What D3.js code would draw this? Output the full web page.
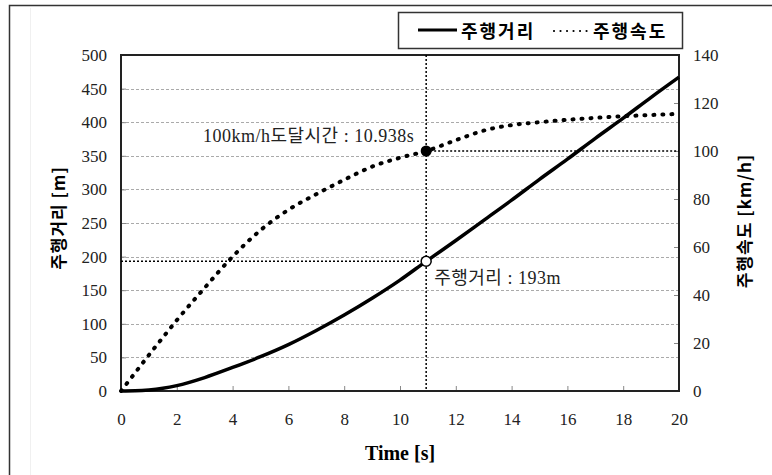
<!DOCTYPE html>
<html>
<head>
<meta charset="utf-8">
<script src="https://cdn.jsdelivr.net/npm/d3@7"></script>
<style>
  body { margin: 0; background: #fff; }
  svg { display: block; }
</style>
</head>
<body>
<div id="chart-area"></div>
<script>
// time [s] and the two series
var times    = [0, 0.5, 1, 1.5, 2, 3, 4, 5, 6, 7, 8, 9, 10, 10.938, 12, 13, 14, 15, 16, 17, 18, 19, 20];
var distance = [0, 0.3, 1.5, 4, 8, 20, 35, 51, 69, 90, 113, 138, 165, 193, 224, 254, 284, 315, 345, 376, 406, 437, 467];
var speed    = [0, 7.5, 15, 22.3, 29.5, 43, 56, 67, 75.5, 82, 88, 93.5, 97.2, 100, 104.5, 108.5, 110.8, 112, 113, 113.8, 114.5, 115, 115.5];

var xTicks = [0, 2, 4, 6, 8, 10, 12, 14, 16, 18, 20];
var distTicks = [0, 50, 100, 150, 200, 250, 300, 350, 400, 450, 500];
var speedTicks = [0, 20, 40, 60, 80, 100, 120, 140];

// marked point: 100 km/h reached
var markTime = 10.938, markSpeed = 100, markDist = 193;

var W = 772, H = 475;
var margin = {left: 121, right: 93, top: 55, bottom: 84};
var width = W - margin.left - margin.right,
    height = H - margin.top - margin.bottom;

var serif = "'Liberation Serif', 'Noto Sans CJK KR', serif";
var kr = "'Noto Sans CJK KR', sans-serif";

var svg = d3.select("#chart-area").append("svg")
    .attr("width", W)
    .attr("height", H);

svg.append("rect").attr("width", W).attr("height", H).attr("fill", "#fff");

// outer frame of the figure
svg.append("rect")
    .attr("x", 9.5).attr("y", 5.5)
    .attr("width", W).attr("height", H)
    .attr("fill", "none").attr("stroke", "#333").attr("stroke-width", 1.5);
svg.append("line")
    .attr("x1", 30.5).attr("x2", 30.5).attr("y1", 8).attr("y2", H)
    .attr("stroke", "#f0f0f0").attr("stroke-width", 1);

var g = svg.append("g")
    .attr("transform", "translate(" + margin.left + "," + margin.top + ")");

var x = d3.scaleLinear().domain([0, 20]).range([0, width]);
var yL = d3.scaleLinear().domain([0, 500]).range([height, 0]);
var yR = d3.scaleLinear().domain([0, 140]).range([height, 0]);

// grid lines
g.selectAll(".grid")
    .data(distTicks.filter(function(d){ return d > 0 && d < 500; }))
    .enter().append("line")
    .attr("class", "grid")
    .attr("x1", 0).attr("x2", width)
    .attr("y1", function(d){ return Math.round(yL(d)) + 0.5; })
    .attr("y2", function(d){ return Math.round(yL(d)) + 0.5; })
    .attr("stroke", "#aaa").attr("stroke-width", 1)
    .attr("stroke-dasharray", "3,2");

// axes
function styleAxis(sel) {
    sel.select(".domain").remove();
    sel.selectAll(".tick line").attr("stroke", "#888");
    sel.selectAll(".tick text")
        .style("font-family", serif)
        .style("font-size", "17px")
        .attr("fill", "#222");
}

g.append("g")
    .call(d3.axisLeft(yL).tickValues(distTicks).tickSize(-5).tickPadding(14))
    .call(styleAxis);

g.append("g")
    .attr("transform", "translate(" + width + ",0)")
    .call(d3.axisRight(yR).tickValues(speedTicks).tickSize(-5).tickPadding(14))
    .call(styleAxis);

g.append("g")
    .attr("transform", "translate(0," + height + ")")
    .call(d3.axisBottom(x).tickValues(xTicks).tickSize(-5).tickPadding(22))
    .call(styleAxis);

// plot border
g.append("rect")
    .attr("width", width).attr("height", height)
    .attr("fill", "none").attr("stroke", "#222").attr("stroke-width", 2);

var points = times.map(function(t, i){
    return {t: t, dist: distance[i], speed: speed[i]};
});

// marker guide lines
var mx = x(markTime);
g.append("line")
    .attr("x1", mx).attr("x2", mx).attr("y1", 0).attr("y2", height)
    .attr("stroke", "#000").attr("stroke-width", 1.5).attr("stroke-dasharray", "2,2");
g.append("line")
    .attr("x1", mx).attr("x2", width).attr("y1", yR(markSpeed)).attr("y2", yR(markSpeed))
    .attr("stroke", "#000").attr("stroke-width", 1.5).attr("stroke-dasharray", "2,2");
g.append("line")
    .attr("x1", 0).attr("x2", mx).attr("y1", yL(markDist)).attr("y2", yL(markDist))
    .attr("stroke", "#000").attr("stroke-width", 1.5).attr("stroke-dasharray", "2,2");

// distance (solid)
var distLine = d3.line()
    .x(function(d){ return x(d.t); })
    .y(function(d){ return yL(d.dist); })
    .curve(d3.curveMonotoneX);

g.append("path")
    .datum(points)
    .attr("d", distLine)
    .attr("fill", "none").attr("stroke", "#000").attr("stroke-width", 3.5);

// speed (dotted)
var speedLine = d3.line()
    .x(function(d){ return x(d.t); })
    .y(function(d){ return yR(d.speed); })
    .curve(d3.curveMonotoneX);

g.append("path")
    .datum(points)
    .attr("d", speedLine)
    .attr("fill", "none").attr("stroke", "#000").attr("stroke-width", 4)
    .attr("stroke-linecap", "round")
    .attr("stroke-dasharray", "1,8");

// marker points
g.append("circle")
    .attr("cx", mx).attr("cy", yR(markSpeed)).attr("r", 5.5)
    .attr("fill", "#000");
g.append("circle")
    .attr("cx", mx).attr("cy", yL(markDist)).attr("r", 5)
    .attr("fill", "#fff").attr("stroke", "#000").attr("stroke-width", 1.5);

// annotations
g.append("text")
    .attr("x", mx - 12).attr("y", yR(markSpeed) - 15)
    .attr("text-anchor", "end")
    .attr("dominant-baseline", "central")
    .style("font-family", serif).style("font-size", "18px").style("letter-spacing", "0.5px")
    .attr("fill", "#222")
    .text("100km/h도달시간 : " + markTime + "s");

g.append("text")
    .attr("x", mx + 8).attr("y", yL(markDist) + 17)
    .attr("dominant-baseline", "central")
    .style("font-family", serif).style("font-size", "18px").style("letter-spacing", "0.5px")
    .attr("fill", "#222")
    .text("주행거리 : " + markDist + "m");

// axis titles
svg.append("text")
    .attr("transform", "translate(57," + (margin.top + height / 2 - 5) + ") rotate(-90)")
    .attr("text-anchor", "middle").attr("dominant-baseline", "central")
    .style("font-family", kr).style("font-size", "17px").attr("font-weight", "bold")
    .style("letter-spacing", "1px")
    .text("주행거리 [m]");

svg.append("text")
    .attr("transform", "translate(743," + (margin.top + height / 2 - 2) + ") rotate(-90)")
    .attr("text-anchor", "middle").attr("dominant-baseline", "central")
    .style("font-family", kr).style("font-size", "17px").attr("font-weight", "bold")
    .style("letter-spacing", "1px")
    .text("주행속도 [km/h]");

svg.append("text")
    .attr("x", margin.left + width / 2).attr("y", 453)
    .attr("text-anchor", "middle").attr("dominant-baseline", "central")
    .style("font-family", serif).style("font-size", "20px").attr("font-weight", "bold")
    .text("Time [s]");

// legend
var legend = svg.append("g");
legend.append("rect")
    .attr("x", 398.5).attr("y", 12.5).attr("width", 284).attr("height", 36)
    .attr("fill", "#fff").attr("stroke", "#333").attr("stroke-width", 1.5);
legend.append("line")
    .attr("x1", 418).attr("x2", 457).attr("y1", 30).attr("y2", 30)
    .attr("stroke", "#000").attr("stroke-width", 3);
legend.append("text")
    .attr("x", 461).attr("y", 30).attr("dominant-baseline", "central")
    .style("font-family", kr).style("font-size", "18px").attr("font-weight", "bold")
    .style("letter-spacing", "2px")
    .text("주행거리");
legend.append("line")
    .attr("x1", 554).attr("x2", 587).attr("y1", 31).attr("y2", 31)
    .attr("stroke", "#000").attr("stroke-width", 2.2)
    .attr("stroke-linecap", "round").attr("stroke-dasharray", "0.01,6.5");
legend.append("text")
    .attr("x", 593).attr("y", 30).attr("dominant-baseline", "central")
    .style("font-family", kr).style("font-size", "18px").attr("font-weight", "bold")
    .style("letter-spacing", "2px")
    .text("주행속도");
</script>
</body>
</html>
